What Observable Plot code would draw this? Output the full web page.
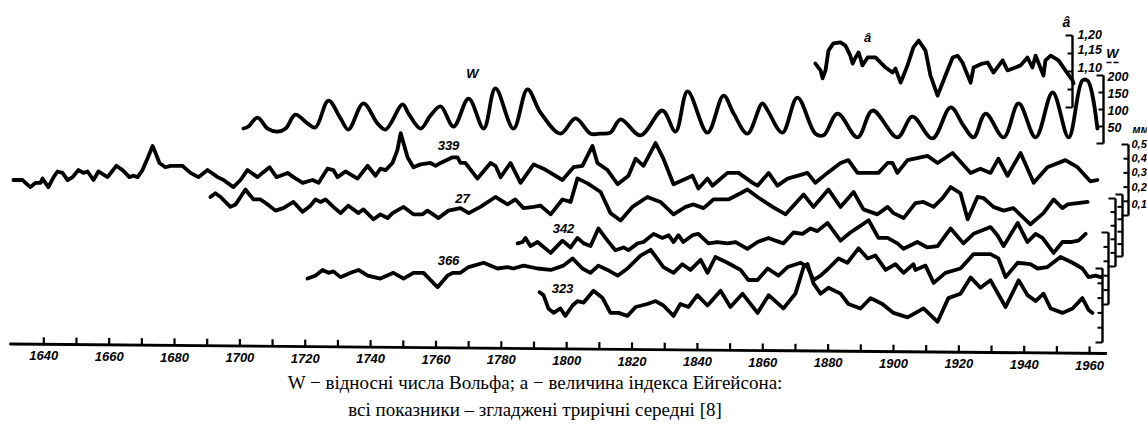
<!DOCTYPE html>
<html><head><meta charset="utf-8">
<script src="https://cdn.jsdelivr.net/npm/d3@7"></script>
<script src="https://cdn.jsdelivr.net/npm/@observablehq/plot@0.6"></script>
<style>
body{margin:0;background:#fff;}
#caption{width:1070px;text-align:center;font-family:"Liberation Serif","Times New Roman",serif;font-size:19px;line-height:26.5px;color:#000;}
</style></head><body>
<div id="chart"></div>
<div id="caption">W − відносні числа Вольфа; а − величина індекса Ейгейсона:<br>всі показники – згладжені трирічні середні [8]</div>
<script>
// ---------------- DATA ----------------
// Eigenson index a
const yearsA = [1876.1,1877.7,1878.3,1879.2,1880.1,1881.6,1883.8,1885.3,1886.8,1887.5,1888.4,1889.3,1889.9,1890.5,1892.1,1894.5,1897.6,1899.7,1900.6,1902.2,1904.3,1906.1,1907.7,1909.8,1911.3,1913.5,1915.9,1918.1,1919.6,1921.1,1923.6,1924.5,1927.2,1928.8,1930.6,1933.4,1934.9,1937.3,1938.9,1941.0,1942.5,1943.5,1945.9,1946.5,1948.1,1950.5,1952.6,1954.8,1955.1];
const eigenson = [1.122,1.103,1.081,1.103,1.158,1.178,1.181,1.172,1.144,1.122,1.139,1.153,1.136,1.117,1.139,1.139,1.111,1.097,1.108,1.069,1.117,1.167,1.186,1.158,1.089,1.033,1.089,1.139,1.144,1.125,1.069,1.111,1.122,1.125,1.097,1.131,1.103,1.111,1.117,1.139,1.111,1.144,1.089,1.131,1.144,1.131,1.103,1.075,1.067];
// Wolf numbers W
const yearsW = [1701.1,1702.6,1705.4,1708.5,1711.5,1714.0,1717.0,1720.7,1723.1,1727.1,1730.8,1733.2,1737.8,1742.1,1744.6,1749.8,1751.6,1755.3,1758.3,1761.4,1765.4,1770.0,1774.6,1778.2,1783.7,1788.0,1792.0,1798.1,1802.7,1807.3,1810.4,1813.4,1816.5,1822.6,1829.3,1833.3,1837.0,1843.1,1848.0,1851.1,1855.3,1859.9,1861.5,1866.0,1870.6,1876.1,1878.6,1882.9,1889.0,1893.6,1901.2,1905.8,1911.9,1917.5,1921.4,1924.5,1928.2,1933.7,1938.3,1943.5,1948.7,1953.6,1957.8,1959.4,1962.4];
const wolf = [44,50,76,44,35,44,85,59,47,126,74,41,118,59,41,115,88,44,82,109,50,132,44,162,44,159,91,29,74,29,29,32,71,24,97,35,153,32,141,88,29,118,97,32,135,29,24,88,18,97,18,79,15,106,53,18,88,18,118,18,150,18,185,185,44];
// tree-ring series, mm
const years339 = [1630.7,1633.5,1634.4,1635.9,1637.5,1639.0,1639.6,1640.5,1641.4,1643.0,1644.2,1645.7,1647.3,1648.8,1650.6,1652.1,1653.4,1655.2,1656.7,1659.5,1662.2,1664.1,1666.2,1667.4,1668.7,1670.2,1671.7,1673.3,1674.2,1675.4,1677.2,1678.8,1680.9,1682.4,1683.4,1684.9,1687.3,1690.1,1693.2,1695.0,1698.0,1700.2,1702.3,1705.4,1706.9,1709.1,1711.2,1714.6,1716.4,1719.2,1722.2,1724.1,1726.8,1728.6,1729.9,1732.3,1736.0,1739.1,1741.5,1743.0,1744.6,1746.7,1748.2,1749.2,1751.3,1753.1,1755.3,1758.3,1759.9,1761.4,1765.1,1766.6,1767.5,1769.0,1772.7,1776.7,1778.2,1779.8,1782.8,1785.9,1789.9,1792.9,1798.7,1802.1,1804.8,1807.9,1809.4,1812.5,1815.6,1818.9,1821.1,1823.5,1827.2,1829.6,1832.7,1838.5,1840.3,1843.1,1844.6,1849.2,1852.6,1856.9,1858.4,1861.8,1864.5,1867.6,1873.7,1876.1,1879.8,1883.8,1886.2,1889.0,1893.0,1895.4,1898.2,1899.7,1901.2,1904.3,1910.4,1913.5,1918.1,1923.6,1926.6,1929.7,1932.1,1934.9,1938.9,1942.9,1947.1,1952.6,1956.3,1960.3,1962.4];
const mm339 = [.25,.25,.23,.20,.23,.23,.26,.23,.20,.27,.31,.30,.25,.27,.32,.30,.31,.25,.31,.27,.35,.32,.27,.28,.27,.32,.40,.49,.44,.37,.34,.35,.35,.35,.33,.30,.27,.32,.27,.25,.20,.25,.32,.27,.30,.34,.27,.30,.27,.23,.25,.23,.33,.32,.27,.31,.26,.35,.28,.33,.32,.37,.46,.58,.41,.34,.36,.37,.35,.37,.41,.41,.37,.37,.26,.37,.35,.27,.37,.23,.36,.33,.25,.34,.35,.49,.37,.32,.22,.28,.40,.35,.51,.40,.22,.28,.19,.26,.21,.30,.30,.23,.21,.30,.21,.26,.30,.23,.30,.37,.39,.30,.30,.30,.37,.37,.30,.39,.42,.37,.44,.30,.33,.30,.40,.28,.44,.23,.34,.39,.34,.24,.25];
const years27 = [1691.0,1692.5,1694.1,1697.1,1698.7,1700.2,1701.7,1702.6,1704.2,1706.3,1708.5,1710.9,1713.3,1716.4,1719.2,1721.6,1723.1,1724.7,1726.2,1728.6,1730.8,1733.2,1736.3,1737.8,1740.9,1743.0,1745.2,1746.7,1750.1,1753.1,1755.9,1757.4,1760.8,1763.8,1767.5,1770.0,1773.6,1778.2,1781.9,1784.3,1786.8,1789.9,1792.0,1795.1,1798.7,1801.2,1803.3,1806.4,1810.4,1813.4,1816.5,1820.1,1824.7,1828.7,1832.7,1836.4,1838.8,1841.9,1844.9,1849.5,1853.2,1855.3,1858.4,1863.0,1867.0,1872.5,1875.5,1880.1,1883.8,1887.8,1890.8,1895.1,1898.2,1900.0,1903.1,1906.7,1909.2,1912.3,1915.0,1917.5,1920.5,1922.7,1925.7,1927.6,1930.6,1933.7,1936.7,1941.9,1945.9,1949.0,1951.7,1953.3,1959.4];
const mm27 = [.48,.51,.48,.40,.42,.48,.54,.51,.46,.46,.42,.37,.39,.44,.36,.41,.46,.44,.46,.40,.35,.41,.35,.38,.30,.34,.31,.35,.40,.34,.34,.37,.31,.37,.39,.35,.40,.48,.42,.46,.39,.40,.41,.34,.46,.44,.63,.59,.52,.35,.29,.40,.48,.44,.34,.40,.42,.39,.46,.46,.51,.54,.48,.40,.34,.50,.40,.54,.40,.52,.38,.34,.40,.35,.31,.43,.44,.40,.47,.56,.51,.30,.48,.47,.40,.37,.39,.26,.35,.46,.39,.42,.44];
const years342 = [1785.0,1786.5,1787.4,1788.9,1791.1,1795.1,1798.7,1801.2,1803.3,1805.2,1807.3,1809.7,1812.5,1814.9,1817.4,1818.9,1821.7,1823.5,1826.6,1829.3,1831.2,1832.7,1834.2,1835.7,1838.5,1840.3,1843.4,1846.1,1849.2,1851.7,1855.3,1858.4,1861.8,1863.9,1866.3,1869.4,1872.2,1874.6,1876.7,1879.8,1883.8,1886.8,1889.3,1892.4,1895.4,1898.2,1901.2,1903.1,1907.3,1910.4,1913.5,1917.5,1921.4,1924.5,1929.7,1931.8,1933.7,1938.0,1941.0,1943.5,1945.6,1949.0,1951.7,1954.2,1956.6,1958.8];
const mm342 = [.17,.18,.21,.15,.18,.10,.19,.14,.21,.17,.15,.28,.19,.12,.14,.12,.17,.18,.24,.21,.23,.18,.23,.18,.23,.24,.17,.18,.17,.18,.13,.18,.21,.19,.17,.25,.24,.28,.26,.32,.19,.25,.29,.34,.21,.21,.17,.13,.18,.14,.15,.28,.17,.24,.29,.23,.15,.32,.18,.24,.21,.10,.18,.18,.19,.24];
const years366 = [1720.7,1723.1,1725.3,1727.1,1728.6,1730.8,1733.9,1736.3,1739.1,1743.0,1747.0,1750.1,1753.1,1756.2,1760.5,1763.5,1765.1,1767.5,1770.0,1774.6,1778.8,1781.9,1783.7,1786.8,1791.1,1795.1,1799.0,1801.8,1804.8,1807.3,1809.7,1812.5,1815.6,1818.6,1822.6,1825.7,1829.6,1832.7,1835.4,1837.9,1841.0,1843.1,1845.5,1849.2,1853.2,1855.6,1858.4,1861.5,1864.8,1867.6,1871.6,1873.7,1875.5,1877.7,1880.1,1883.2,1885.9,1889.3,1892.1,1894.5,1897.6,1900.6,1903.1,1906.1,1906.7,1909.8,1912.3,1915.9,1920.5,1924.5,1929.7,1932.1,1934.3,1938.0,1941.9,1944.1,1947.1,1951.1,1954.8,1957.8,1959.7,1961.8,1963.4];
const mm366 = [.18,.20,.24,.22,.23,.19,.22,.24,.20,.18,.22,.18,.22,.22,.12,.20,.22,.22,.26,.29,.25,.26,.25,.27,.25,.24,.27,.32,.25,.22,.27,.24,.20,.25,.34,.38,.26,.22,.28,.24,.31,.22,.33,.29,.24,.17,.17,.25,.20,.26,.29,.26,.17,.20,.25,.32,.29,.39,.32,.34,.24,.28,.22,.28,.24,.27,.15,.22,.25,.35,.35,.32,.19,.29,.28,.25,.26,.33,.29,.25,.19,.20,.19];
const years323 = [1791.7,1792.9,1794.4,1796.0,1798.1,1799.6,1801.8,1803.3,1805.2,1808.2,1811.0,1813.4,1815.9,1818.6,1821.1,1824.7,1827.2,1829.6,1832.7,1834.8,1837.3,1840.0,1843.1,1847.1,1850.1,1853.8,1858.4,1861.8,1866.3,1870.0,1872.5,1873.7,1875.5,1877.7,1880.1,1883.8,1886.2,1889.9,1893.0,1896.6,1900.0,1904.3,1909.2,1913.5,1916.8,1920.5,1923.6,1926.6,1929.7,1934.3,1938.3,1941.0,1943.5,1945.9,1948.1,1951.7,1954.8,1957.8,1959.7,1960.9];
const mm323 = [.34,.32,.23,.20,.23,.18,.25,.28,.27,.35,.30,.20,.20,.18,.24,.26,.28,.25,.18,.26,.24,.32,.25,.35,.24,.33,.20,.32,.23,.33,.51,.53,.40,.33,.37,.33,.26,.23,.30,.26,.20,.17,.23,.14,.30,.33,.44,.37,.42,.24,.42,.32,.28,.33,.23,.20,.23,.30,.22,.20];

// axis ticks / labels
const tickYears = [1640,1650,1660,1670,1680,1690,1700,1710,1720,1730,1740,1750,1760,1770,1780,1790,1800,1810,1820,1830,1840,1850,1860,1870,1880,1890,1900,1910,1920,1930,1940,1950,1960];
const labelYears = [1640,1660,1680,1700,1720,1740,1760,1780,1800,1820,1840,1860,1880,1900,1920,1940,1960];
const aTickLabels = ["1,20","1,15","1,10"];
const wTickLabels = ["200","150","100","50"];
const mmTickLabels = ["0,5","0,4","0,3","0,2","0,1"];

// ---------------- LAYOUT ----------------
const W = 1147, H = 370;
const X0 = 43.3, PXYR = 3.268;           // px of 1640 and px per year
const atPx = px => 1640 + (px - X0) / PXYR;
const AX = {from: 1629.8, to: 1965, y0: 343.5, y1: 353};
const axisY = yr => AX.y0 + (yr - AX.from) / (AX.to - AX.from) * (AX.y1 - AX.y0);

const series = [
  {name:"a",   years:yearsA,   values:eigenson, ax:1072, top:35,  bottom:107, vTop:1.20, vBottom:1.00, step:0.05, label:"â",   lx:867, ly:37, smooth:false},
  {name:"W",   years:yearsW,   values:wolf,     ax:1103, top:75,  bottom:143, vTop:200,  vBottom:0,    step:50,   label:"W",   lx:472, ly:73, smooth:true},
  {name:"339", years:years339, values:mm339,    ax:1128, top:144, bottom:215, vTop:0.5,  vBottom:0,    step:0.1,  label:"339", lx:448, ly:145, smooth:false},
  {name:"27",  years:years27,  values:mm27,     ax:1122, top:194, bottom:256, vTop:0.5,  vBottom:0,    step:0.1,  label:"27",  lx:462, ly:198, smooth:false},
  {name:"342", years:years342, values:mm342,    ax:1115, top:198, bottom:266, vTop:0.5,  vBottom:0,    step:0.1,  label:"342", lx:563, ly:228, smooth:false},
  {name:"366", years:years366, values:mm366,    ax:1108, top:232, bottom:304, vTop:0.5,  vBottom:0,    step:0.1,  label:"366", lx:448, ly:260, smooth:false},
  {name:"323", years:years323, values:mm323,    ax:1102, top:268, bottom:342, vTop:0.5,  vBottom:0,    step:0.1,  label:"323", lx:562, ly:288, smooth:false}
];
const toY = (s, v) => s.bottom - (v - s.vBottom) / (s.vTop - s.vBottom) * (s.bottom - s.top);

const rows = series.flatMap(s => s.years.slice(0, s.values.length).map((yr, i) => ({series: s.name, smooth: s.smooth, year: yr, y: toY(s, s.values[i])})));

// right-hand brackets
const bracketLines = series.map(s => ({x1: atPx(s.ax), x2: atPx(s.ax), y1: s.top, y2: s.bottom}));
const bracketTicks = series.flatMap(s => {
  const n = Math.round((s.vTop - s.vBottom) / s.step);
  return d3.range(n + 1).map(i => {
    const y = toY(s, s.vBottom + i * s.step);
    const len = (i === 0 || i === n) ? 7 : 5;
    return {x1: atPx(s.ax - len), x2: atPx(s.ax), y1: y, y2: y};
  });
});
const sA = series[0], sW = series[1], s339 = series[2];
const aLabels = aTickLabels.map((t, i) => ({t, x: atPx(sA.ax + 5), y: toY(sA, 1.20 - 0.05 * i) - (i === 0 ? 1 : 4)}));
const wLabels = wTickLabels.map((t, i) => ({t, x: atPx(sW.ax + 4), y: toY(sW, 200 - 50 * i) + 1}));
const mmLabels = mmTickLabels.map((t, i) => ({t, x: atPx(s339.ax + 3), y: toY(s339, 0.5 - 0.1 * i) + (i === 4 ? 3 : 0)}));

const font = {fontFamily: "'Liberation Sans','Arial',sans-serif", fontStyle: "italic", fontWeight: "bold"};
const lineStyle = {x: "year", y: "y", z: "series", stroke: "#000", strokeWidth: 3.8, strokeLinejoin: "round", strokeLinecap: "round"};

const chart = Plot.plot({
  width: W, height: H,
  marginLeft: 0, marginRight: 0, marginTop: 0, marginBottom: 0,
  x: {domain: [1640, 1960], range: [X0, X0 + 320 * PXYR], axis: null},
  y: {domain: [0, H], range: [0, H], axis: null},
  style: {background: "#fff", overflow: "visible"},
  marks: [
    // bottom (slightly tilted) time axis
    Plot.line([AX.from, AX.to], {x: d => d, y: d => axisY(d), stroke: "#000", strokeWidth: 2.8}),
    Plot.link(tickYears, {x1: d => d, x2: d => d, y1: d => axisY(d), y2: d => axisY(d) - 7, stroke: "#000", strokeWidth: 2.2}),
    Plot.text(labelYears, {x: d => d, y: d => axisY(d) + 12, text: d => String(d), fontSize: 13, ...font, fill: "#000"}),
    // series
    Plot.line(rows.filter(d => d.smooth), {...lineStyle, curve: "catmull-rom"}),
    Plot.line(rows.filter(d => !d.smooth), {...lineStyle, curve: "linear"}),
    Plot.text(series, {x: d => atPx(d.lx), y: "ly", text: "label", fontSize: 13, ...font, fill: "#000"}),
    // right axes
    Plot.link(bracketLines, {x1: "x1", x2: "x2", y1: "y1", y2: "y2", stroke: "#000", strokeWidth: 2.4}),
    Plot.link(bracketTicks, {x1: "x1", x2: "x2", y1: "y1", y2: "y2", stroke: "#000", strokeWidth: 2}),
    Plot.text(aLabels, {x: "x", y: "y", text: "t", textAnchor: "start", fontSize: 12.5, ...font, fill: "#000"}),
    Plot.text(wLabels, {x: "x", y: "y", text: "t", textAnchor: "start", fontSize: 12.5, ...font, fill: "#000"}),
    Plot.text(mmLabels, {x: "x", y: "y", text: "t", textAnchor: "start", fontSize: 11, ...font, fill: "#000"}),
    Plot.text(["â"], {x: atPx(1066), y: 22, text: d => d, fontSize: 14, ...font, fill: "#000"}),
    Plot.text(["W"], {x: atPx(1112), y: 53, text: d => d, fontSize: 13, ...font, fill: "#000"}),
    Plot.link([0], {x1: atPx(1106), x2: atPx(1120), y1: 62, y2: 62, stroke: "#000", strokeWidth: 1.5, strokeDasharray: "5 2"}),
    Plot.text(["мм"], {x: atPx(1132), y: 129, text: d => d, textAnchor: "start", fontSize: 11, ...font, fill: "#000"})
  ]
});
document.getElementById("chart").appendChild(chart);
</script>
</body></html>
